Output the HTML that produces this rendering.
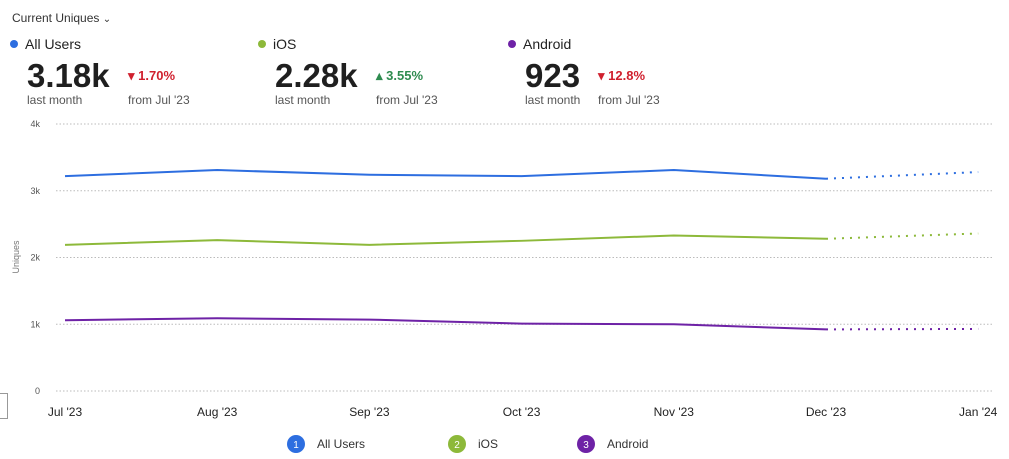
<!DOCTYPE html>
<html><head><meta charset="utf-8"><style>
body{margin:0;width:1009px;height:459px;background:#fff;font-family:"Liberation Sans",sans-serif;color:#222;overflow:hidden;position:relative}
.abs{position:absolute}
.big{font-size:33px;font-weight:bold;color:#1f1f1f;letter-spacing:0px}
.sub{font-size:12px;color:#555}
.chg{font-size:13px;font-weight:bold}
.red{color:#d0202e}.grn{color:#2e8b4f}
.dot{display:inline-block;width:8px;height:8px;border-radius:50%;margin-right:7px;vertical-align:1px}
.lab{font-size:14px;color:#222}
</style></head><body>
<div class="abs" style="left:12px;top:11px;font-size:12px;color:#333">Current Uniques <span style="font-size:10px">&#8964;</span></div>

<div class="abs lab" style="left:10px;top:36px"><span class="dot" style="background:#2d6ee0"></span>All Users</div>
<div class="abs big" style="left:27px;top:57px">3.18k</div>
<div class="abs chg red" style="left:128px;top:68px">&#9662; 1.70%</div>
<div class="abs sub" style="left:27px;top:93px">last month</div>
<div class="abs sub" style="left:128px;top:93px">from Jul '23</div>

<div class="abs lab" style="left:258px;top:36px"><span class="dot" style="background:#8db93a"></span>iOS</div>
<div class="abs big" style="left:275px;top:57px">2.28k</div>
<div class="abs chg grn" style="left:376px;top:68px">&#9652; 3.55%</div>
<div class="abs sub" style="left:275px;top:93px">last month</div>
<div class="abs sub" style="left:376px;top:93px">from Jul '23</div>

<div class="abs lab" style="left:508px;top:36px"><span class="dot" style="background:#6e22a6"></span>Android</div>
<div class="abs big" style="left:525px;top:57px">923</div>
<div class="abs chg red" style="left:598px;top:68px">&#9662; 12.8%</div>
<div class="abs sub" style="left:525px;top:93px">last month</div>
<div class="abs sub" style="left:598px;top:93px">from Jul '23</div>

<div class="abs" style="left:-2px;top:393px;width:8px;height:24px;border:1px solid #999"></div>

<svg class="abs" style="left:0;top:0" width="1009" height="459">
<g id="grid"></g><g id="lines"></g><g id="legend"></g>
<text transform="translate(19,257) rotate(-90)" text-anchor="middle" font-size="9" fill="#777" font-family="Liberation Sans, sans-serif">Uniques</text>
</svg>
<script>
const months=["Jul '23","Aug '23","Sep '23","Oct '23","Nov '23","Dec '23","Jan '24"];
const yTicks=[0,1000,2000,3000,4000];
const yTickLabels=["0","1k","2k","3k","4k"];
const seriesNames=["All Users","iOS","Android"];
const seriesColors=["#2d6ee0","#8db93a","#6e22a6"];
const allUsers=[3220,3310,3240,3220,3310,3180,3280];
const ios=[2190,2260,2190,2250,2330,2280,2360];
const android=[1060,1090,1070,1010,1000,923,930];
const series=[allUsers,ios,android];
const NS="http://www.w3.org/2000/svg";
const x=i=>65+i*152.2;
const y=v=>391-v*(267/4000);
const grid=document.getElementById('grid'),lines=document.getElementById('lines'),leg=document.getElementById('legend');
function mk(tag,attrs,parent){const e=document.createElementNS(NS,tag);for(const k in attrs)e.setAttribute(k,attrs[k]);parent.appendChild(e);return e;}
yTicks.forEach((t,i)=>{
 const l=mk('line',{x1:56,x2:993,y1:y(t),y2:y(t),stroke:'#bbb','stroke-dasharray':'1.5 2','stroke-width':1},grid);
 
 
 const tx=mk('text',{x:40,y:y(t)+3,'text-anchor':'end','font-size':9,fill:'#555','font-family':'Liberation Sans, sans-serif'},grid);
 tx.textContent=yTickLabels[i];
 
 
});
months.forEach((m,i)=>{
 const tx=mk('text',{x:x(i),y:416,'text-anchor':'middle','font-size':12,fill:'#222','font-family':'Liberation Sans, sans-serif'},grid);
 tx.textContent=m;
 
 
});
series.forEach((s,k)=>{
 const n=s.length-1;
 const solid=s.slice(0,n).map((v,i)=>x(i)+','+y(v)).join(' ');
 const p=mk('polyline',{points:solid,fill:'none',stroke:seriesColors[k],'stroke-width':2},lines);
 
 
 const d=mk('line',{x1:x(n-1),y1:y(s[n-1]),x2:x(n),y2:y(s[n]),stroke:seriesColors[k],'stroke-width':2,'stroke-dasharray':'2 6'},lines);
 
 
});
const lx=[296,457,586];
seriesNames.forEach((nm,k)=>{
 const c=mk('circle',{cx:lx[k],cy:444,r:9,fill:seriesColors[k]},leg);
 
 
 const t=mk('text',{x:lx[k],y:448,'text-anchor':'middle','font-size':10,fill:'#fff','font-family':'Liberation Sans, sans-serif'},leg);
 t.textContent=String(k+1);
 const l=mk('text',{x:lx[k]+21,y:448,'font-size':12,fill:'#333','font-family':'Liberation Sans, sans-serif'},leg);
 l.textContent=nm;
 
 
});
</script>
</body></html>
